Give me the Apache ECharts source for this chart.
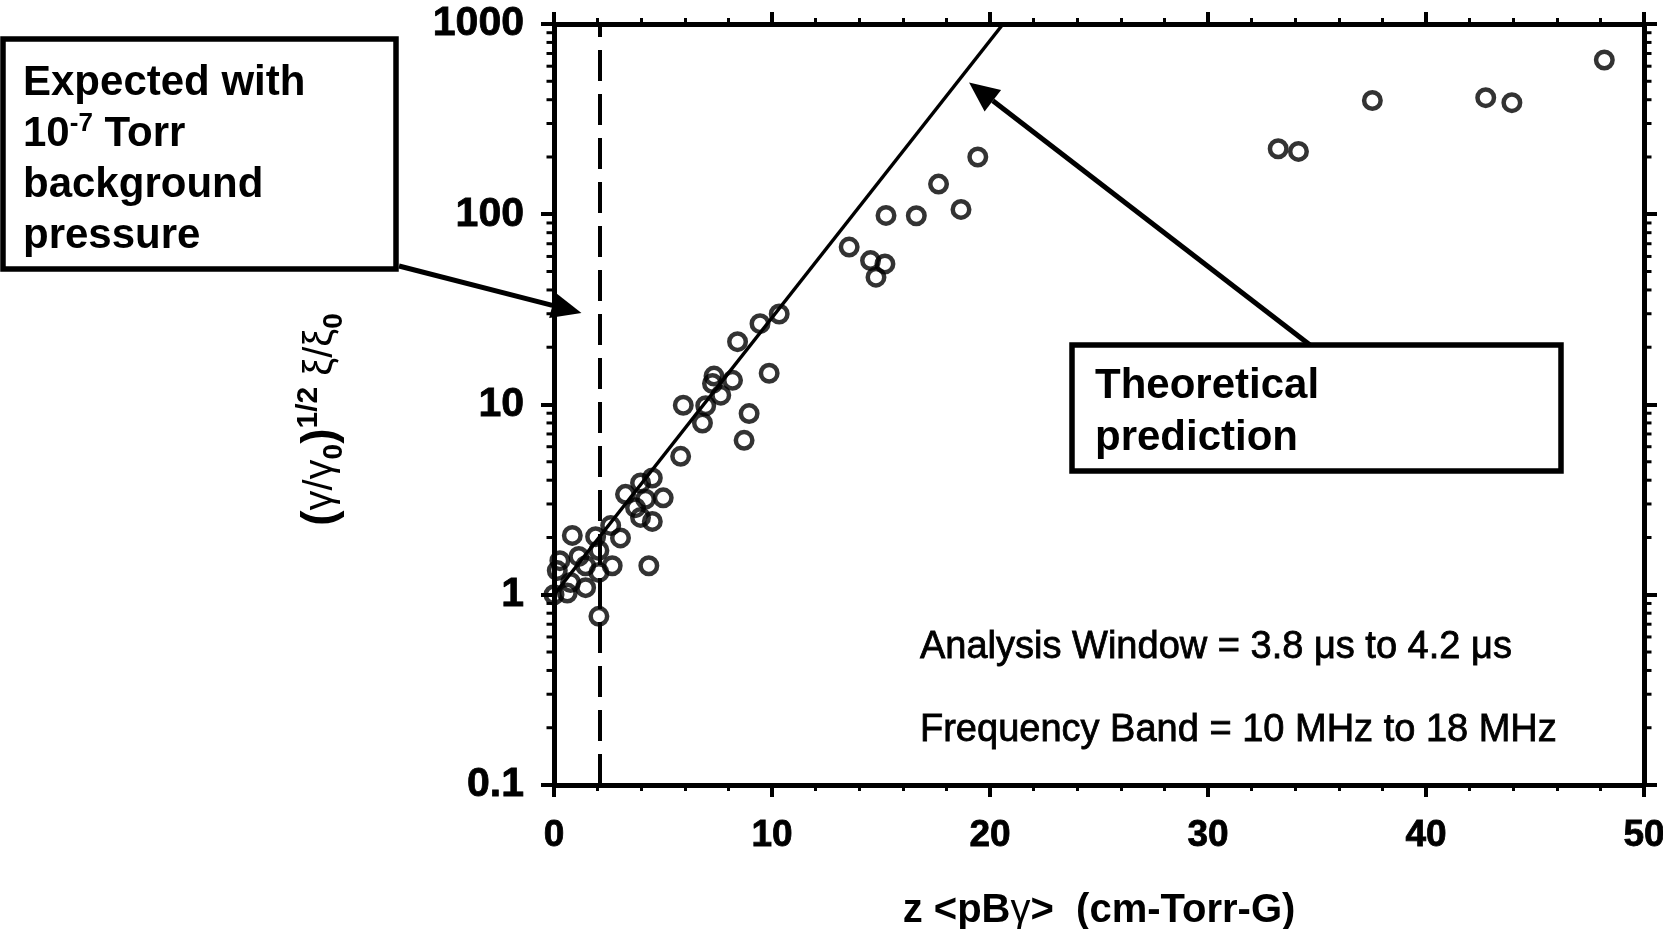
<!DOCTYPE html>
<html>
<head>
<meta charset="utf-8">
<title>Amplification vs z&lt;pBγ&gt;</title>
<script src="https://cdn.jsdelivr.net/npm/echarts@6/dist/echarts.min.js"></script>
<style>
  html, body { margin: 0; padding: 0; background: #ffffff; }
  #chart { width: 1663px; height: 929px; }
</style>
</head>
<body>
<div id="chart"></div>
<script>
// Measured points: normalized distance z<pBγ> (cm-Torr-G) and (γ/γ0)^1/2 ξ/ξ0
const zValues = [
  0.00, 0.61, 0.15, 0.27, 0.76, 1.14, 0.84, 1.45, 1.45, 2.06,
  2.06, 1.91, 2.06, 2.60, 3.05, 2.67, 4.35, 3.28, 3.97, 4.51,
  4.20, 5.01, 3.74, 3.97, 4.51, 5.81, 5.93, 6.96, 6.81, 7.27,
  7.34, 8.19, 7.65, 8.95, 8.72, 9.87, 8.42, 9.45, 10.33, 13.54,
  14.52, 15.18, 14.77, 15.23, 16.62, 17.64, 18.67, 19.44, 33.22, 34.15,
  37.54, 42.74, 43.94, 48.18
];
const ampValues = [
  1.00, 1.02, 1.34, 1.51, 1.16, 1.59, 2.05, 1.42, 1.09, 1.71,
  1.31, 2.02, 0.77, 2.31, 1.99, 1.42, 1.42, 3.37, 3.87, 4.11,
  3.18, 3.23, 2.87, 2.55, 2.43, 5.34, 9.91, 9.85, 7.99, 12.9,
  14.1, 13.4, 11.2, 8.96, 6.48, 14.6, 21.4, 26.6, 29.9, 67.2,
  57.1, 54.8, 46.7, 98.6, 98.2, 144, 106, 200, 221, 214,
  396, 410, 386, 647
];

// Theoretical prediction: its two end points on the log plot
const theoryZ = [0, 20.6];
const theoryAmp = [1, 1000];

// Distance expected with a 1e-7 Torr background pressure
const backgroundZ = 2.1;

// Axes
const xTicks = [0, 10, 20, 30, 40, 50];
const yDecades = [0.1, 1, 10, 100, 1000];

// Annotation arrow tips, in data units
const tipBackground = [1.26, 30.3];
const tipTheory = [19.04, 493];

const FONT = "'Liberation Sans', Arial, Helvetica, sans-serif";
const BLACK = '#000000';

const xMin = xTicks[0];
const xMax = xTicks[xTicks.length - 1];
const yMin = yDecades[0];
const yMax = yDecades[yDecades.length - 1];

const points = zValues.map((z, i) => [z, ampValues[i]]);
const theory = theoryZ.map((z, i) => [z, theoryAmp[i]]);

// Minor ticks 2..9 inside each decade, on the left and right log axes
const minorTicks = [];
for (let d = 0; d < yDecades.length - 1; d++) {
  for (let m = 2; m <= 9; m++) {
    const v = m * yDecades[d];
    minorTicks.push([xMin, v, -1]);
    minorTicks.push([xMax, v, 1]);
  }
}

const axisLineStyle = { show: true, onZero: false, lineStyle: { color: BLACK, width: 5 } };
const majorTick = (len) => ({ show: true, inside: false, length: len, lineStyle: { color: BLACK, width: 4 } });
const tickLabel = (size, margin) => ({
  margin: margin, color: BLACK, fontFamily: FONT, fontWeight: 'bold', fontSize: size,
  textBorderColor: BLACK, textBorderWidth: 0.8
});

const option = {
  animation: false,
  backgroundColor: '#ffffff',
  grid: {
    left: 554, right: 19, top: 24, bottom: 144,
    containLabel: false, outerBoundsMode: 'none'
  },
  xAxis: [
    {
      type: 'value', position: 'bottom', min: xMin, max: xMax, interval: 10,
      axisLine: axisLineStyle,
      axisTick: majorTick(12),
      minorTick: { show: true, splitNumber: 5, length: 6, lineStyle: { color: BLACK, width: 3 } },
      splitLine: { show: false }, minorSplitLine: { show: false },
      axisLabel: tickLabel(37, 32),
      name: '{b|z <pB}{g|γ}{b|>  (cm-Torr-G)}',
      nameLocation: 'middle', nameGap: 106,
      nameTextStyle: {
        color: BLACK, fontFamily: FONT,
        rich: {
          b: { fontFamily: FONT, fontWeight: 'bold', fontSize: 40, color: BLACK },
          g: { fontFamily: FONT, fontWeight: 'normal', fontSize: 40, color: BLACK }
        }
      }
    },
    {
      type: 'value', position: 'top', min: xMin, max: xMax, interval: 10,
      axisLine: axisLineStyle,
      axisTick: majorTick(12),
      minorTick: { show: true, splitNumber: 5, length: 6, lineStyle: { color: BLACK, width: 3 } },
      splitLine: { show: false }, minorSplitLine: { show: false },
      axisLabel: { show: false }
    }
  ],
  yAxis: [
    {
      type: 'log', logBase: 10, position: 'left', min: yMin, max: yMax,
      axisLine: axisLineStyle,
      axisTick: majorTick(13),
      splitLine: { show: false },
      axisLabel: Object.assign(tickLabel(41, 30), {
        formatter: (v) => String(+v.toPrecision(6))
      }),
      name: '{p|(}{g|γ/γ}{s|0}{p|)}{u|1/2}{g| ξ/ξ}{s|0}',
      nameLocation: 'middle', nameRotate: 90, nameGap: 206,
      nameTextStyle: {
        color: BLACK, fontFamily: FONT, padding: [0, 30, 0, 0],
        rich: {
          p: { fontFamily: FONT, fontWeight: 'bold', fontSize: 46, lineHeight: 54, color: BLACK },
          g: { fontFamily: FONT, fontWeight: 'normal', fontSize: 40, lineHeight: 54, color: BLACK },
          s: { fontFamily: FONT, fontWeight: 'bold', fontSize: 28, lineHeight: 28, verticalAlign: 'bottom', color: BLACK },
          u: { fontFamily: FONT, fontWeight: 'bold', fontSize: 30, lineHeight: 30, verticalAlign: 'top', color: BLACK }
        }
      }
    },
    {
      type: 'log', logBase: 10, position: 'right', min: yMin, max: yMax,
      axisLine: axisLineStyle,
      axisTick: majorTick(13),
      splitLine: { show: false },
      axisLabel: { show: false }
    }
  ],
  series: [
    {
      name: 'Theoretical prediction',
      type: 'line', xAxisIndex: 0, yAxisIndex: 0,
      data: theory, symbol: 'none', z: 3,
      lineStyle: { color: BLACK, width: 3.5 }
    },
    {
      name: 'Measured',
      type: 'scatter', xAxisIndex: 0, yAxisIndex: 0,
      data: points, symbol: 'circle', symbolSize: 16.5, z: 4,
      itemStyle: { color: 'rgba(0,0,0,0)', borderColor: BLACK, borderWidth: 4.5 },
      markLine: {
        silent: true, symbol: ['none', 'none'], label: { show: false },
        lineStyle: { color: BLACK, width: 4, type: [31, 13] },
        data: [{ xAxis: backgroundZ }]
      }
    },
    {
      name: 'log minor ticks',
      type: 'custom', xAxisIndex: 0, yAxisIndex: 0,
      clip: false, silent: true, z: 5,
      data: minorTicks,
      renderItem: (params, api) => {
        const p = api.coord([api.value(0), api.value(1)]);
        const dir = api.value(2);
        return {
          type: 'line',
          shape: { x1: p[0], y1: p[1], x2: p[0] + dir * 7.5, y2: p[1] },
          style: { stroke: BLACK, lineWidth: 3 }
        };
      }
    }
  ]
};

const chart = echarts.init(document.getElementById('chart'), null, { renderer: 'canvas' });
chart.setOption(option);

// Arrow: shaft from start to the base of a filled head at tip
function arrow(start, tip, headLen, headWidth) {
  const dx = tip[0] - start[0];
  const dy = tip[1] - start[1];
  const len = Math.hypot(dx, dy);
  const ux = dx / len, uy = dy / len;
  const nx = -uy, ny = ux;
  const bx = tip[0] - ux * headLen, by = tip[1] - uy * headLen;
  return [
    { type: 'line', shape: { x1: start[0], y1: start[1], x2: bx, y2: by },
      style: { stroke: BLACK, lineWidth: 5 }, z: 20 },
    { type: 'polygon', shape: { points: [
        tip,
        [bx + nx * headWidth / 2, by + ny * headWidth / 2],
        [bx - nx * headWidth / 2, by - ny * headWidth / 2]
      ] }, style: { fill: BLACK }, z: 20 }
  ];
}

function label(x, y, text, size, weight, stroke) {
  return {
    type: 'text', x: x, y: y, z: 30,
    style: {
      text: text, fill: BLACK, fontFamily: FONT, fontSize: size, fontWeight: weight,
      stroke: stroke ? BLACK : null, lineWidth: stroke || 0,
      align: 'left', verticalAlign: 'middle', textAlign: 'left', textVerticalAlign: 'middle'
    }
  };
}

const pTipBackground = chart.convertToPixel({ seriesIndex: 1 }, tipBackground);
const pTipTheory = chart.convertToPixel({ seriesIndex: 1 }, tipTheory);

const boxBackground = { x: 3, y: 39, width: 393, height: 230 };
const boxTheory = { x: 1072, y: 345, width: 489, height: 126 };

const graphics = [
  { type: 'rect', shape: boxBackground, style: { fill: '#ffffff', stroke: BLACK, lineWidth: 5.5 }, z: 25 },
  label(23, 83, 'Expected with', 42, 'bold'),
  {
    type: 'text', x: 23, y: 134, z: 30,
    style: {
      text: '{b|10}{u|-7}{b| Torr}', fill: BLACK, fontFamily: FONT,
      align: 'left', verticalAlign: 'middle', textAlign: 'left', textVerticalAlign: 'middle',
      rich: {
        b: { fontFamily: FONT, fontWeight: 'bold', fontSize: 42, lineHeight: 46, fill: BLACK },
        u: { fontFamily: FONT, fontWeight: 'bold', fontSize: 26, lineHeight: 30, verticalAlign: 'top', fill: BLACK }
      }
    }
  },
  label(23, 185, 'background', 42, 'bold'),
  label(23, 236, 'pressure', 42, 'bold'),

  { type: 'rect', shape: boxTheory, style: { fill: '#ffffff', stroke: BLACK, lineWidth: 5.5 }, z: 25 },
  label(1095, 386, 'Theoretical', 42, 'bold'),
  label(1095, 438, 'prediction', 42, 'bold'),

  label(920, 648, 'Analysis Window = 3.8 μs to 4.2 μs', 38, 'normal', 0.8),
  label(920, 731, 'Frequency Band = 10 MHz to 18 MHz', 38, 'normal', 0.8)
]
  .concat(arrow([399, 266], pTipBackground, 30, 26))
  .concat(arrow([1310, 345], pTipTheory, 30, 27));

chart.setOption({ graphic: { elements: graphics } });
</script>
</body>
</html>
